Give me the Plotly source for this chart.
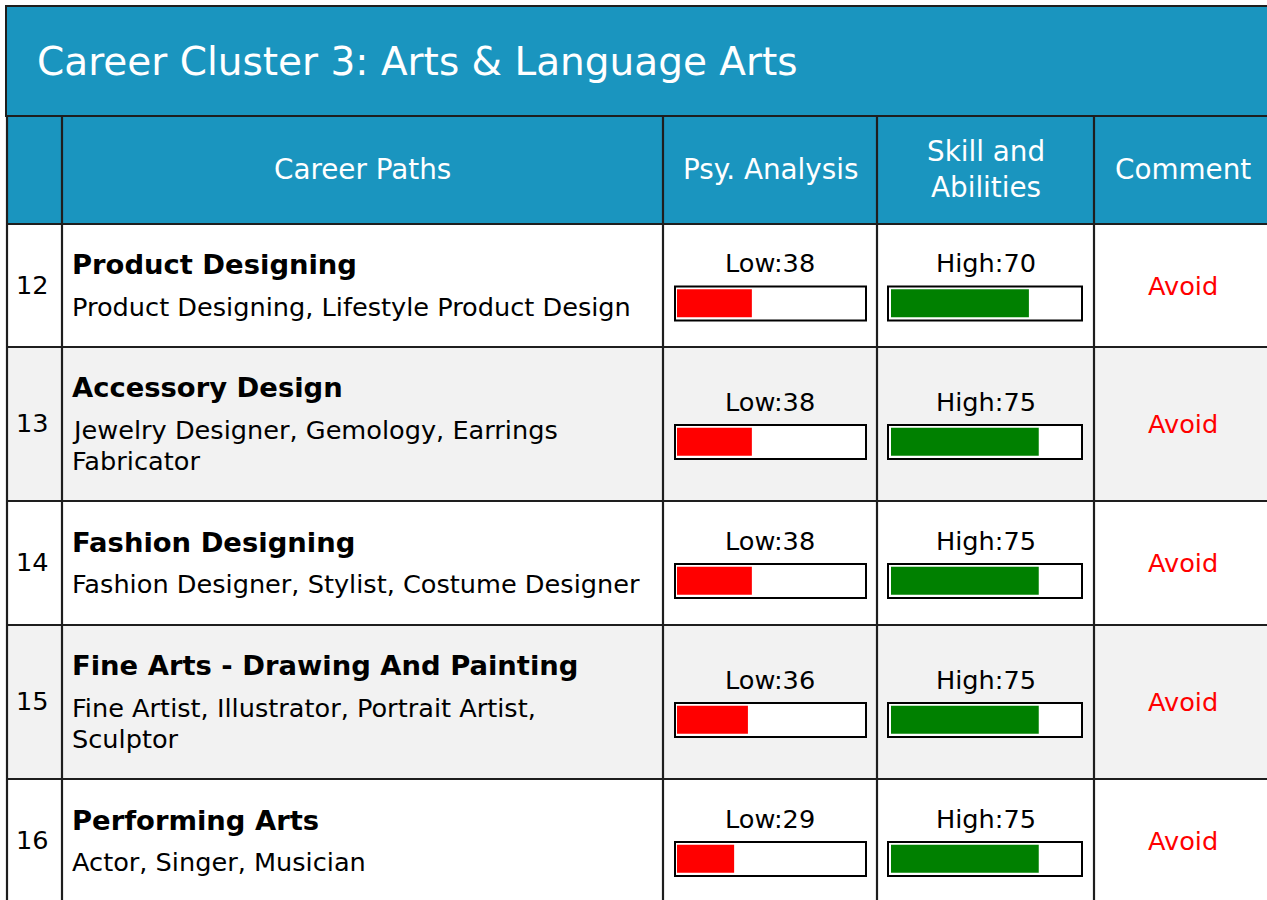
import plotly.graph_objects as go

# ---------------- data ----------------
title_text = "Career Cluster 3: Arts &amp; Language Arts"
header_labels = ["Career Paths", "Psy. Analysis", "Skill and<br>Abilities", "Comment"]
row_numbers = ["12", "13", "14", "15", "16"]
career_titles = ["Product Designing", "Accessory Design", "Fashion Designing",
                 "Fine Arts - Drawing And Painting", "Performing Arts"]
career_subtitles = [
    ["Product Designing, Lifestyle Product Design"],
    ["Jewelry Designer, Gemology, Earrings", "Fabricator"],
    ["Fashion Designer, Stylist, Costume Designer"],
    ["Fine Artist, Illustrator, Portrait Artist,", "Sculptor"],
    ["Actor, Singer, Musician"],
]
psy_levels = ["Low", "Low", "Low", "Low", "Low"]
psy_values = [38, 38, 38, 36, 29]
skill_levels = ["High", "High", "High", "High", "High"]
skill_values = [70, 75, 75, 75, 75]
comments = ["Avoid", "Avoid", "Avoid", "Avoid", "Avoid"]

# ---------------- layout geometry (pixels) ----------------
W, H = 1267, 900
FONT = "DejaVu Sans"
HEAD_BG = "#1a95bf"
LINE = "#1e1e1e"
ALT_BG = "#f2f2f2"
TITLE_SIZE, HEAD_SIZE, BOLD_SIZE, BODY_SIZE = 39, 27.8, 27.4, 25.6
col_x = [7, 62, 663, 877, 1094, 1280]
title_top, title_bottom = 6, 116
header_bottom = 224
row_bounds = [224, 347, 501, 625, 779, 903]
centers = [(row_bounds[i] + row_bounds[i + 1]) / 2 for i in range(len(row_numbers))]
px_per_unit = 1.97
psy_fill_start = 677
skill_fill_start = 891

fig = go.Figure()

shapes = []
# title bar
shapes.append(dict(type="rect", xref="x", yref="y", x0=6, x1=1290, y0=title_top, y1=title_bottom,
                   fillcolor=HEAD_BG, line=dict(color=LINE, width=2), layer="below"))
# header row
shapes.append(dict(type="rect", xref="x", yref="y", x0=col_x[0], x1=1290, y0=title_bottom, y1=header_bottom,
                   fillcolor=HEAD_BG, line=dict(width=0), layer="below"))
# row backgrounds
for i in range(len(row_numbers)):
    shapes.append(dict(type="rect", xref="x", yref="y", x0=col_x[0], x1=1290,
                       y0=row_bounds[i], y1=row_bounds[i + 1],
                       fillcolor=(ALT_BG if i % 2 == 1 else "white"), line=dict(width=0), layer="below"))
# horizontal lines
for yy in [title_bottom] + row_bounds[:-1]:
    shapes.append(dict(type="line", xref="x", yref="y", x0=col_x[0] - 1, x1=1290, y0=yy, y1=yy,
                       line=dict(color=LINE, width=2.2), layer="below"))
# vertical lines
for xx in col_x[:-1]:
    shapes.append(dict(type="line", xref="x", yref="y", x0=xx, x1=xx, y0=title_bottom, y1=H + 5,
                       line=dict(color=LINE, width=2.2), layer="below"))
# bar frames
for c in centers:
    for (bx0, bx1) in [(675, 866), (888, 1082)]:
        shapes.append(dict(type="rect", xref="x", yref="y", x0=bx0, x1=bx1, y0=c + 1, y1=c + 35,
                           fillcolor="white", line=dict(color="black", width=2), layer="below"))

annotations = []
# title
annotations.append(dict(x=35, y=(title_top + title_bottom) / 2, xref="x", yref="y", text=title_text,
                        showarrow=False, xanchor="left", yanchor="middle",
                        font=dict(family=FONT, size=TITLE_SIZE, color="white")))
# header labels
for j, lab in enumerate(header_labels):
    cx = (col_x[j + 1] + col_x[j + 2]) / 2 if j < 3 else 1183
    annotations.append(dict(x=cx, y=(title_bottom + header_bottom) / 2 - 1, xref="x", yref="y", text=lab,
                            showarrow=False, xanchor="center", yanchor="middle",
                            font=dict(family=FONT, size=HEAD_SIZE, color="white")))
# rows
for i, c in enumerate(centers):
    annotations.append(dict(x=(col_x[0] + col_x[1]) / 2 - 2, y=c - 1, xref="x", yref="y", text=row_numbers[i],
                            showarrow=False, xanchor="center", yanchor="middle",
                            font=dict(family=FONT, size=BODY_SIZE, color="black")))
    subs = career_subtitles[i]
    n = len(subs)
    block = 42 + 31 * (n - 1)
    ty = c - block / 2
    annotations.append(dict(x=70, y=ty, xref="x", yref="y", text="<b>" + career_titles[i] + "</b>",
                            showarrow=False, xanchor="left", yanchor="middle",
                            font=dict(family=FONT, size=BOLD_SIZE, color="black")))
    for k, s in enumerate(subs):
        annotations.append(dict(x=70, y=ty + 42 + 31 * k, xref="x", yref="y", text=s,
                                showarrow=False, xanchor="left", yanchor="middle",
                                font=dict(family=FONT, size=BODY_SIZE, color="black")))
    annotations.append(dict(x=(col_x[2] + col_x[3]) / 2, y=c - 22.5, xref="x", yref="y",
                            text=f"{psy_levels[i]}:{psy_values[i]}", showarrow=False,
                            xanchor="center", yanchor="middle",
                            font=dict(family=FONT, size=BODY_SIZE, color="black")))
    annotations.append(dict(x=(col_x[3] + col_x[4]) / 2, y=c - 22.5, xref="x", yref="y",
                            text=f"{skill_levels[i]}:{skill_values[i]}", showarrow=False,
                            xanchor="center", yanchor="middle",
                            font=dict(family=FONT, size=BODY_SIZE, color="black")))
    annotations.append(dict(x=1183, y=c, xref="x", yref="y", text=comments[i], showarrow=False,
                            xanchor="center", yanchor="middle",
                            font=dict(family=FONT, size=BODY_SIZE, color="#ff0000")))

bar_y = [c + 17.8 for c in centers]
fig.add_trace(go.Bar(x=psy_values, y=bar_y, orientation="h", width=28, xaxis="x2", yaxis="y",
                     marker=dict(color="#ff0000", line=dict(width=0)), hoverinfo="x", showlegend=False))
fig.add_trace(go.Bar(x=skill_values, y=bar_y, orientation="h", width=28, xaxis="x3", yaxis="y",
                     marker=dict(color="#008000", line=dict(width=0)), hoverinfo="x", showlegend=False))

axis_off = dict(showgrid=False, zeroline=False, showticklabels=False, ticks="", showline=False, fixedrange=True)
fig.update_layout(
    width=W, height=H, margin=dict(l=0, r=0, t=0, b=0),
    paper_bgcolor="white", plot_bgcolor="rgba(0,0,0,0)",
    xaxis=dict(range=[0, W], domain=[0, 1], **axis_off),
    yaxis=dict(range=[H, 0], domain=[0, 1], **axis_off),
    xaxis2=dict(range=[0, 100], domain=[psy_fill_start / W, (psy_fill_start + 100 * px_per_unit) / W],
                anchor="y", **axis_off),
    xaxis3=dict(range=[0, 100], domain=[skill_fill_start / W, (skill_fill_start + 100 * px_per_unit) / W],
                anchor="y", **axis_off),
    shapes=shapes, annotations=annotations, barmode="overlay",
)

fig.write_html("out.html", config={"displayModeBar": False},
               post_script="document.body.style.margin='0';document.body.style.overflow='hidden';")
